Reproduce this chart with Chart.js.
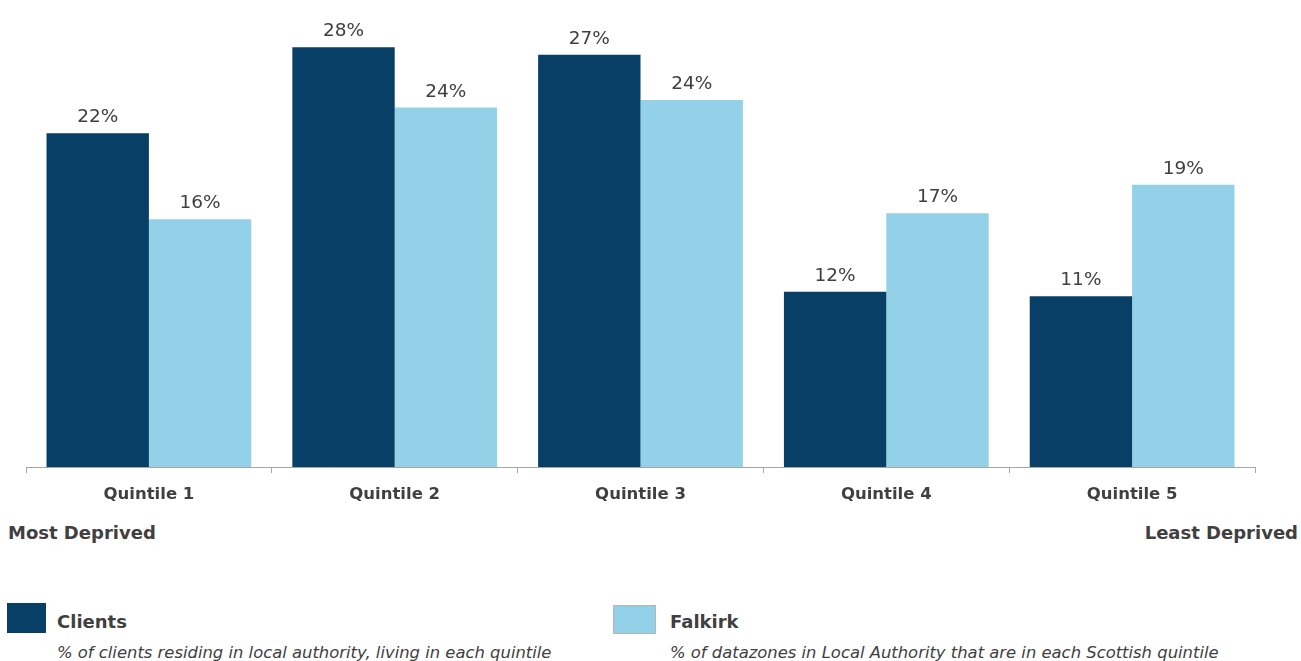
<!DOCTYPE html>
<html>
<head>
<meta charset="utf-8">
<script src="https://cdn.jsdelivr.net/npm/chart.js@4.4.0/dist/chart.umd.min.js"></script>
<style>
  html, body { margin: 0; padding: 0; background: #fff; overflow: hidden; }
  body { width: 1301px; height: 661px; position: relative; font-family: "DejaVu Sans", sans-serif; color: #404040; }
  #wrap { position: absolute; left: 0; top: 0; width: 1301px; height: 510px; }
  .note { position: absolute; font-weight: bold; font-size: 18px; line-height: 20px; white-space: nowrap; }
  .swatch { position: absolute; box-sizing: border-box; }
  .sub { position: absolute; font-style: italic; font-size: 16.4px; line-height: 20px; white-space: nowrap; }
</style>
</head>
<body>
<div id="wrap"><canvas id="quintileChart" width="1301" height="510"></canvas></div>

<div class="note" style="left:8px; top:523px;">Most Deprived</div>
<div class="note" style="right:3px; top:523px;">Least Deprived</div>

<div class="swatch" style="left:7px; top:603px; width:39px; height:30px; background:#083f66;"></div>
<div class="note" style="left:57px; top:612px;">Clients</div>
<div class="sub" style="left:57px; top:643px;">% of clients residing in local authority, living in each quintile</div>

<div class="swatch" style="left:613px; top:605px; width:43px; height:29px; background:#92d1e8; border:1px solid #b4b4b4;"></div>
<div class="note" style="left:670px; top:612px;">Falkirk</div>
<div class="sub" style="left:670px; top:643px;">% of datazones in Local Authority that are in each Scottish quintile</div>

<script>
const quintiles = ['Quintile 1', 'Quintile 2', 'Quintile 3', 'Quintile 4', 'Quintile 5'];
const clients = [22.1, 27.8, 27.3, 11.6, 11.3];
const falkirk = [16.4, 23.8, 24.3, 16.8, 18.7];

const textGrey = '#404040';

// draws the % value above every bar
const barLabels = {
  id: 'barLabels',
  afterDatasetsDraw(chart) {
    const ctx = chart.ctx;
    ctx.save();
    ctx.font = '18.5px "DejaVu Sans"';
    ctx.fillStyle = textGrey;
    ctx.textAlign = 'center';
    ctx.textBaseline = 'alphabetic';
    chart.data.datasets.forEach((ds, i) => {
      chart.getDatasetMeta(i).data.forEach((bar, j) => {
        ctx.fillText(Math.round(ds.data[j]) + '%', bar.x, bar.y - 11);
      });
    });
    ctx.restore();
  }
};

const ctx = document.getElementById('quintileChart').getContext('2d');
new Chart(ctx, {
  type: 'bar',
  data: {
    labels: quintiles,
    datasets: [
      { label: 'Clients', data: clients, backgroundColor: '#083f66', borderWidth: 0 },
      { label: 'Falkirk', data: falkirk, backgroundColor: '#92d1e8', borderWidth: 0 }
    ]
  },
  options: {
    responsive: false,
    animation: false,
    layout: { padding: { left: 26, right: 46, top: 14, bottom: 0 } },
    datasets: { bar: { categoryPercentage: 0.833, barPercentage: 1.0 } },
    plugins: { legend: { display: false }, tooltip: { enabled: false } },
    scales: {
      x: {
        grid: { display: true, drawOnChartArea: false, drawTicks: true, tickLength: 6, color: '#a6a6a6', offset: true },
        border: { display: true, color: '#a6a6a6' },
        ticks: { color: textGrey, font: { family: 'DejaVu Sans', size: 16.5, weight: 'bold' }, padding: 12, maxRotation: 0 },
        afterFit(scale) { scale.height = 43; }
      },
      y: { display: false, min: 0, max: 30 }
    }
  },
  plugins: [barLabels]
});
</script>
</body>
</html>
